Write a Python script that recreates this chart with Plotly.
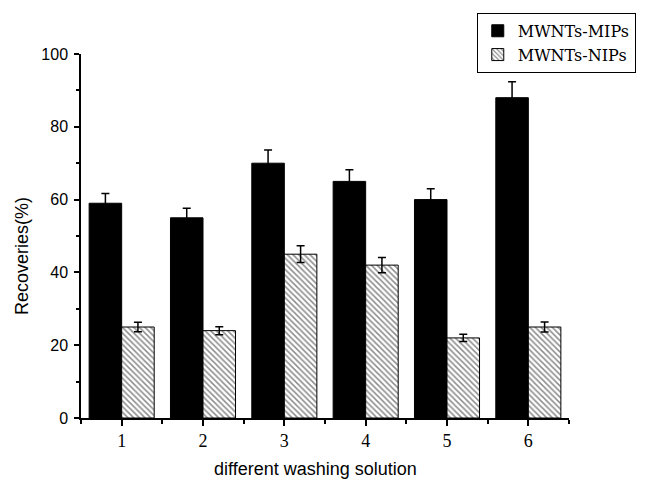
import plotly.graph_objects as go

categories = [1, 2, 3, 4, 5, 6]
mip_values = [59, 55, 70, 65, 60, 88]
mip_errors = [2.7, 2.6, 3.6, 3.2, 3.0, 4.4]
nip_values = [25, 24, 45, 42, 22, 25]
nip_errors = [1.3, 1.1, 2.3, 2.1, 1.0, 1.4]
y_ticks = [0, 20, 40, 60, 80, 100]
x_title = "different washing solution"
y_title = "Recoveries(%)"

fig = go.Figure()
fig.add_trace(go.Bar(
    x=categories, y=mip_values, name="MWNTs-MIPs",
    marker=dict(color="black", line=dict(color="black", width=1)),
    error_y=dict(type="data", array=mip_errors, color="black", thickness=1.5, width=4),
))
fig.add_trace(go.Bar(
    x=categories, y=nip_values, name="MWNTs-NIPs",
    marker=dict(color="white", line=dict(color="black", width=1),
                pattern=dict(shape="\\", size=4, solidity=0.38, fgcolor="#1a1a1a", bgcolor="white")),
    error_y=dict(type="data", array=nip_errors, color="black", thickness=1.5, width=4),
))

fig.update_layout(
    width=647, height=482,
    margin=dict(l=81, r=78, t=54, b=64, autoexpand=False),
    paper_bgcolor="white", plot_bgcolor="white",
    barmode="group", bargap=0.2, bargroupgap=0,
    showlegend=True,
    legend=dict(
        x=0.811, y=1.113, xanchor="left", yanchor="top",
        bordercolor="black", borderwidth=1, bgcolor="white",
        font=dict(family="DejaVu Serif", size=16, color="black"),
        tracegroupgap=0, itemwidth=30,
    ),
    xaxis=dict(
        range=[0.5, 6.5], tickmode="array", tickvals=categories,
        ticktext=[str(c) for c in categories],
        showline=True, linecolor="black", linewidth=1.5, mirror=False,
        ticks="outside", ticklen=6, tickwidth=1.5, tickcolor="black",
        minor=dict(tickvals=[0.5, 1.5, 2.5, 3.5, 4.5, 5.5, 6.5], ticks="outside", ticklen=4, tickwidth=1.5, tickcolor="black"),
        showgrid=False, zeroline=False,
        tickfont=dict(family="Liberation Serif", size=18, color="black"),
    ),
    yaxis=dict(
        range=[0, 100], tickmode="array", tickvals=y_ticks,
        showline=True, linecolor="black", linewidth=1.5, mirror=False,
        ticks="outside", ticklen=5, tickwidth=1.5, tickcolor="black",
        minor=dict(tickvals=[10, 30, 50, 70, 90], ticks="outside", ticklen=3, tickwidth=1.5, tickcolor="black"),
        showgrid=False, zeroline=False,
        tickfont=dict(family="Liberation Sans", size=16, color="black"),
        ticklabelstandoff=3,
    ),
    annotations=[
        dict(text=x_title, xref="paper", yref="paper", x=0.48, y=-0.141,
             xanchor="center", yanchor="middle", showarrow=False,
             font=dict(family="Liberation Sans", size=18, color="black")),
        dict(text=y_title, xref="paper", yref="paper", x=-0.121, y=0.445,
             xanchor="center", yanchor="middle", showarrow=False, textangle=-90,
             font=dict(family="Liberation Sans", size=18, color="black")),
    ],
)

fig.write_html("out.html")
